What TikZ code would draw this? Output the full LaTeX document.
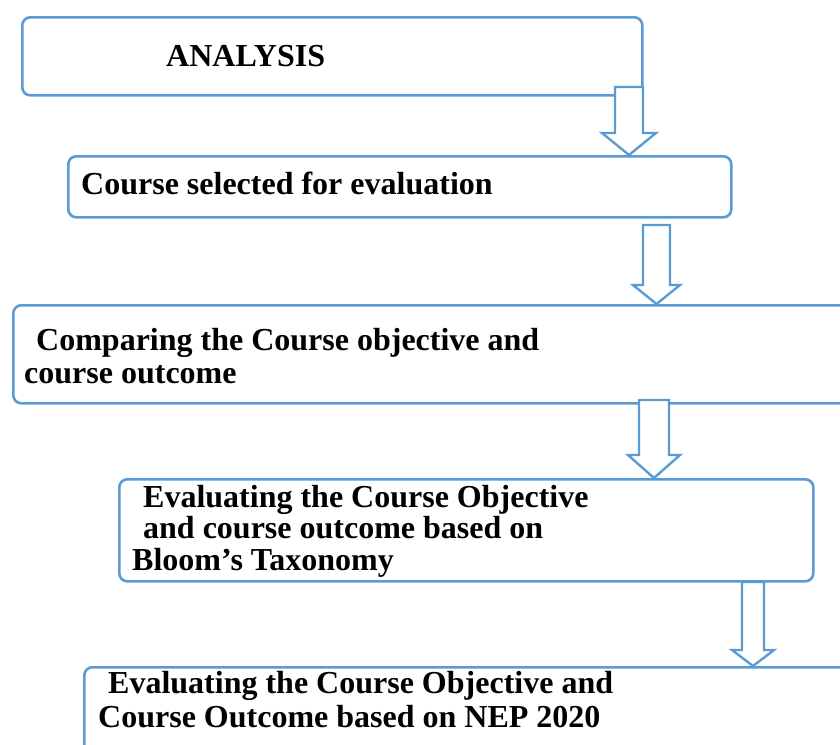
\documentclass[tikz,border=0pt]{standalone}
\usepackage{fontspec}
\setmainfont{Liberation Serif}
\definecolor{flowblue}{RGB}{91,155,213}
\tikzset{
  box/.style={draw=flowblue, line width=2.6pt, rounded corners=8pt, fill=white, inner sep=0pt, anchor=north west},
  barrow/.style={draw=flowblue, line width=2.4pt, fill=white, line join=miter},
  txt/.style={anchor=base west, inner sep=0pt, font=\fontsize{32}{34}\selectfont\bfseries}
}
\newcommand{\blockarrow}[6]{%
  \draw[barrow] (#1-#4,#2) -- (#1-#4,#3) -- (#1-#5,#3) -- (#6.north -| #1,0) -- (#1+#5,#3) -- (#1+#4,#3) -- (#1+#4,#2) -- cycle;}
\begin{document}
\begin{tikzpicture}[x=1pt,y=-1pt]
\useasboundingbox (0,0) rectangle (840,744);
\clip (0,0) rectangle (840,744);
% boxes
\node[box, minimum width=620pt, minimum height=78pt] (b1) at (21,16) {};
\node[box, minimum width=663pt, minimum height=61pt] (b2) at (67,155) {};
\node[box, minimum width=848pt, minimum height=98pt] (b3) at (12,304) {};
\node[box, minimum width=694pt, minimum height=102pt] (b4) at (118,478) {};
\node[box, minimum width=777pt, minimum height=104pt] (b5) at (83,666) {};
% texts
\node[txt] (t1) at (166,66) {ANALYSIS};
\node[txt] (t2) at (81,194) {Course selected for evaluation};
\node[txt] (t3a) at (36,350) {Comparing the Course objective and};
\node[txt] (t3b) at (24,383) {course outcome};
\node[txt] (t4a) at (143,507) {Evaluating the Course Objective};
\node[txt] (t4b) at (143,538) {and course outcome based on};
\node[txt] (t4c) at (132,570) {Bloom’s Taxonomy};
\node[txt] (t5a) at (108,693) {Evaluating the Course Objective and};
\node[txt] (t5b) at (98,727) {Course Outcome based on NEP 2020};
% block arrows
\blockarrow{629}{87}{133}{14}{27}{b2}
\blockarrow{656.5}{225}{285}{13.5}{23.5}{b3}
\blockarrow{654}{400}{455}{15}{26}{b4}
\blockarrow{753}{582}{650}{11}{21}{b5}
\end{tikzpicture}
\end{document}
